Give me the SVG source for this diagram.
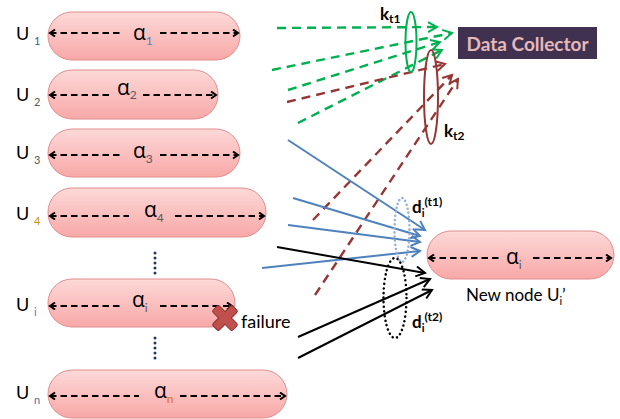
<svg xmlns="http://www.w3.org/2000/svg" width="620" height="419" viewBox="0 0 620 419">
<defs>
<linearGradient id="pink" x1="0" y1="0" x2="0" y2="1">
<stop offset="0" stop-color="#fcd9d8"/>
<stop offset="1" stop-color="#f8a8a7"/>
</linearGradient>
<marker id="ah" markerUnits="userSpaceOnUse" markerWidth="10" markerHeight="10" refX="6" refY="4" orient="auto-start-reverse">
<path d="M1,0.5 L6,4 L1,7.5" fill="none" stroke="#000" stroke-width="2"/>
</marker>
<marker id="ag" markerUnits="userSpaceOnUse" markerWidth="14" markerHeight="14" refX="10" refY="6" orient="auto">
<path d="M1,1 L10,6 L1,11" fill="none" stroke="#00b050" stroke-width="2"/>
</marker>
<marker id="ar" markerUnits="userSpaceOnUse" markerWidth="14" markerHeight="14" refX="10" refY="6" orient="auto">
<path d="M1,1 L10,6 L1,11" fill="none" stroke="#953735" stroke-width="2"/>
</marker>
<marker id="ab" markerUnits="userSpaceOnUse" markerWidth="14" markerHeight="14" refX="10" refY="6" orient="auto">
<path d="M1,1 L10,6 L1,11" fill="none" stroke="#4f81bd" stroke-width="2"/>
</marker>
<marker id="ak" markerUnits="userSpaceOnUse" markerWidth="14" markerHeight="14" refX="10" refY="6" orient="auto">
<path d="M1,1 L10,6 L1,11" fill="none" stroke="#000" stroke-width="2"/>
</marker>
</defs>
<style>
text{font-family:Lato,"Liberation Sans","DejaVu Sans",sans-serif;fill:#000}
.box{fill:url(#pink);stroke:#e08e8c;stroke-width:1}
.da{stroke:#000;stroke-width:2.2;stroke-dasharray:6.5,4;fill:none}
.dl{marker-start:url(#ah)}
.dr{marker-end:url(#ah)}
.lab{font-size:18px}
.sub{font-size:11px}
.al{font-size:21px;font-family:"Open Sans","DejaVu Sans",sans-serif}
.al .sub{font-size:12px;font-family:Lato,"Liberation Sans",sans-serif}
.g{stroke:#00b050;stroke-width:2.4;stroke-dasharray:9,6;fill:none;marker-end:url(#ag)}
.r{stroke:#953735;stroke-width:2.4;stroke-dasharray:9,6;fill:none;marker-end:url(#ar)}
.b{stroke:#4f81bd;stroke-width:2;fill:none;marker-end:url(#ab)}
.k{stroke:#000;stroke-width:2;fill:none;marker-end:url(#ak)}
.bold{font-weight:bold}
.dot{fill:#1f3864}
</style>

<g id="node-u1">
<rect class="box" x="48" y="12" width="192" height="48" rx="24"/>
<line class="da dl" x1="50" y1="33" x2="121" y2="33"/>
<line class="da dr" x1="160" y1="33" x2="238" y2="33"/>
<text class="al" x="133" y="40">α<tspan class="sub" dy="5" fill="#4f81bd">1</tspan></text>
<text class="lab" x="16" y="40">U<tspan class="sub" x="34" dy="5" fill="#1f5fa0">1</tspan></text>
</g>

<g id="node-u2">
<rect class="box" x="48" y="70" width="170" height="49" rx="24"/>
<line class="da dl" x1="50" y1="95" x2="111" y2="95"/>
<line class="da dr" x1="143" y1="95" x2="216" y2="95"/>
<text class="al" x="117" y="95">α<tspan class="sub" dy="4" fill="#595959">2</tspan></text>
<text class="lab" x="16" y="101">U<tspan class="sub" x="34" dy="5" fill="#595959">2</tspan></text>
</g>

<g id="node-u3">
<rect class="box" x="48" y="129" width="192" height="48" rx="24"/>
<line class="da dl" x1="50" y1="155" x2="121" y2="155"/>
<line class="da dr" x1="160" y1="155" x2="238" y2="155"/>
<text class="al" x="133" y="158">α<tspan class="sub" dy="5" fill="#595959">3</tspan></text>
<text class="lab" x="16" y="159">U<tspan class="sub" x="34" dy="5" fill="#595959">3</tspan></text>
</g>

<g id="node-u4">
<rect class="box" x="48" y="188" width="218" height="49" rx="24"/>
<line class="da dl" x1="50" y1="216" x2="129" y2="216"/>
<line class="da dr" x1="175" y1="216" x2="264" y2="216"/>
<text class="al" x="144" y="217">α<tspan class="sub" dy="5" fill="#595959">4</tspan></text>
<text class="lab" x="16" y="220">U<tspan class="sub" x="34" dy="5" fill="#c09000">4</tspan></text>
</g>

<g id="dots">
<circle class="dot" cx="155" cy="253" r="1.5"/><circle class="dot" cx="155" cy="258" r="1.5"/><circle class="dot" cx="155" cy="263" r="1.5"/><circle class="dot" cx="155" cy="268" r="1.5"/><circle class="dot" cx="155" cy="273" r="1.5"/>
<circle class="dot" cx="155" cy="338" r="1.5"/><circle class="dot" cx="155" cy="343" r="1.5"/><circle class="dot" cx="155" cy="348" r="1.5"/><circle class="dot" cx="155" cy="353" r="1.5"/><circle class="dot" cx="155" cy="358" r="1.5"/>
</g>

<g id="node-ui">
<rect class="box" x="48" y="279" width="187" height="48" rx="24"/>
<line class="da dl" x1="50" y1="306" x2="121" y2="306"/>
<line class="da dr" x1="160" y1="306" x2="232" y2="306"/>
<text class="al" x="132" y="307">α<tspan class="sub" dy="5" fill="#595959">i</tspan></text>
<text class="lab" x="16" y="311">U<tspan class="sub" x="34" dy="5" fill="#4f81bd">i</tspan></text>
</g>

<g id="failure">
<g transform="translate(225,318) rotate(45)">
<rect x="-14" y="-4.5" width="28" height="9" rx="2" fill="#c0504d" stroke="#8c2f2c" stroke-width="1"/>
<rect x="-4.5" y="-14" width="9" height="28" rx="2" fill="#c0504d" stroke="#8c2f2c" stroke-width="1"/>
<rect x="-13.5" y="-4" width="27" height="8" rx="2" fill="#c0504d"/>
</g>
<text x="241" y="328" font-size="18">failure</text>
</g>

<g id="node-un">
<rect class="box" x="48" y="370" width="239" height="48" rx="24"/>
<line class="da dl" x1="50" y1="396" x2="139" y2="396"/>
<line class="da dr" x1="180" y1="396" x2="285" y2="396"/>
<text class="al" x="154" y="398">α<tspan class="sub" dy="5" fill="#e46c0a">n</tspan></text>
<text class="lab" x="16" y="399">U<tspan class="sub" x="34" dy="5" fill="#4f6f9f">n</tspan></text>
</g>

<g id="data-collector">
<rect x="458" y="27" width="139" height="32" fill="#403151"/>
<text x="527.5" y="51" font-size="19" font-weight="bold" text-anchor="middle" style="fill:#e6b9b8" textLength="122" lengthAdjust="spacingAndGlyphs">Data Collector</text>
</g>

<g id="new-node">
<rect class="box" x="427" y="231" width="187" height="48" rx="24"/>
<line class="da dl" x1="429" y1="258" x2="501" y2="258"/>
<line class="da dr" x1="533" y1="258" x2="611" y2="258"/>
<text class="al" x="506" y="264">α<tspan class="sub" dy="5" fill="#595959">i</tspan></text>
<text x="466" y="301" font-size="17">New node U<tspan class="sub" dy="4">i</tspan><tspan dy="-4">’</tspan></text>
</g>

<g id="connectors">
<line class="g" x1="277" y1="28" x2="437" y2="27"/>
<line class="g" x1="272" y1="70" x2="452" y2="33"/>
<line class="g" x1="288" y1="90" x2="440" y2="42"/>
<line class="g" x1="298" y1="123" x2="442" y2="50"/>
<line class="r" x1="287" y1="102" x2="445" y2="64"/>
<line class="r" x1="313" y1="220" x2="452" y2="75"/>
<line class="r" x1="315" y1="295" x2="458" y2="79"/>
<line class="b" x1="288" y1="140" x2="425" y2="230"/>
<line class="b" x1="293" y1="198" x2="420" y2="236"/>
<line class="b" x1="288" y1="225" x2="420" y2="242"/>
<line class="b" x1="262" y1="268" x2="420" y2="251"/>
<line class="k" x1="277" y1="247" x2="425" y2="273"/>
<line class="k" x1="298" y1="337" x2="430" y2="279"/>
<line class="k" x1="298" y1="358" x2="432" y2="290"/>
</g>

<g id="group-kt1">
<ellipse cx="411" cy="42" rx="5.5" ry="30" fill="none" stroke="#00b050" stroke-width="2"/>
<text x="380" y="20" font-size="17" class="bold">k<tspan font-size="12" dy="3">t1</tspan></text>
</g>
<g id="group-kt2">
<ellipse cx="431" cy="97" rx="7" ry="47" fill="none" stroke="#953735" stroke-width="2"/>
<text x="444" y="137" font-size="17" class="bold">k<tspan font-size="12" dy="3">t2</tspan></text>
</g>
<g id="group-dt1">
<ellipse cx="402" cy="230" rx="7.5" ry="32" fill="none" stroke="#95b3d7" stroke-width="2.5" stroke-dasharray="0.1,4" stroke-linecap="round"/>
<text x="412" y="213" font-size="17" class="bold">d<tspan font-size="11" dy="4">i</tspan><tspan font-size="12" dy="-11">(t1)</tspan></text>
</g>
<g id="group-dt2">
<ellipse cx="395" cy="298" rx="11.5" ry="40" fill="none" stroke="#000" stroke-width="2.5" stroke-dasharray="0.1,4.5" stroke-linecap="round"/>
<text x="412" y="328" font-size="17" class="bold">d<tspan font-size="11" dy="4">i</tspan><tspan font-size="12" dy="-11">(t2)</tspan></text>
</g>
</svg>
